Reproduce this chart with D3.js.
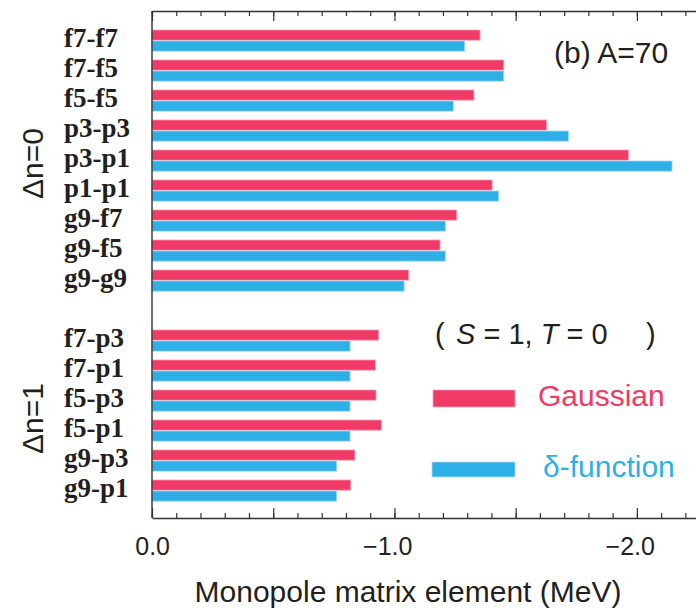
<!DOCTYPE html>
<html>
<head>
<meta charset="utf-8">
<script src="https://cdn.jsdelivr.net/npm/d3@7"></script>
<style>
  body { margin: 0; background: #fff; }
  text { font-family: "Liberation Sans", Arial, sans-serif; fill: #231f20; }
</style>
</head>
<body>
<div id="chart"></div>
<script>
// Orbit pairs, Δn=0 group then Δn=1 group
const topPairs = ["f7-f7", "f7-f5", "f5-f5", "p3-p3", "p3-p1", "p1-p1", "g9-f7", "g9-f5", "g9-g9"];
const bottomPairs = ["f7-p3", "f7-p1", "f5-p3", "f5-p1", "g9-p3", "g9-p1"];

// Monopole matrix elements (MeV)
const gaussianTop = [-1.353, -1.451, -1.328, -1.628, -1.966, -1.403, -1.257, -1.188, -1.059];
const deltaTop    = [-1.290, -1.451, -1.243, -1.718, -2.145, -1.430, -1.210, -1.210, -1.040];
const gaussianBottom = [-0.935, -0.921, -0.924, -0.946, -0.837, -0.820];
const deltaBottom    = [-0.817, -0.817, -0.817, -0.817, -0.762, -0.762];

const majorTicks = [0, -0.5, -1.0, -1.5, -2.0];
const minorTicks = [0, -0.1, -0.2, -0.3, -0.4, -0.5, -0.6, -0.7, -0.8, -0.9, -1.0, -1.1,
                    -1.2, -1.3, -1.4, -1.5, -1.6, -1.7, -1.8, -1.9, -2.0, -2.1, -2.2];
const labelTicks = [0, -1.0, -2.0];
const tickLabels = ["0.0", "\u22121.0", "\u22122.0"];

const seriesNames = ["Gaussian", "\u03b4-function"];
const colors = ["#ef3b66", "#2eafe5"];
const edgeColors = ["#f7a3b7", "#a5dcf4"];

const width = 696, height = 611;
const plot = {left: 152, right: 697.5, top: 11, bottom: 518};

const svg = d3.select("#chart")
  .append("svg")
    .attr("width", width)
    .attr("height", height);

// rows: top group, a blank spacer row, bottom group
const rows = [...topPairs, "", ...bottomPairs];
const data = [
  ...topPairs.map((p, i) => ({pair: p, vals: [gaussianTop[i], deltaTop[i]]})),
  ...bottomPairs.map((p, i) => ({pair: p, vals: [gaussianBottom[i], deltaBottom[i]]}))
];

const x = d3.scaleLinear()
  .domain([0, -2.25])
  .range([plot.left, plot.right]);

const y = d3.scaleBand()
  .domain(rows)
  .range([plot.top, plot.bottom])
  .paddingInner(0)
  .paddingOuter(0.45)
  .align(0.54);

const sub = d3.scaleBand()
  .domain([0, 1])
  .range([4, 26]);

// Bars
const rowG = svg.append("g")
  .selectAll("g")
  .data(data)
  .join("g")
    .attr("transform", d => `translate(0,${y(d.pair)})`);

rowG.selectAll("rect")
  .data(d => d.vals.map((v, k) => ({v, k})))
  .join("rect")
    .attr("x", x(0))
    .attr("y", d => sub(d.k) + 0.4)
    .attr("width", d => x(d.v) - x(0))
    .attr("height", sub.bandwidth() - 0.8)
    .attr("fill", d => colors[d.k])
    .attr("stroke", d => edgeColors[d.k])
    .attr("stroke-width", 0.8);

// Axes: ticks point inward
function styleAxis(g) {
  g.selectAll("line").attr("stroke", "#333").attr("stroke-width", 1.2);
  g.selectAll("path").attr("stroke", "#333").attr("stroke-width", 1.4);
}

svg.append("g")
  .attr("transform", `translate(0,${plot.bottom})`)
  .call(d3.axisBottom(x).tickValues(minorTicks).tickSize(-5).tickSizeOuter(0).tickFormat(""))
  .call(styleAxis);
svg.append("g")
  .attr("transform", `translate(0,${plot.bottom})`)
  .call(d3.axisBottom(x).tickValues(majorTicks).tickSize(-10).tickSizeOuter(0).tickFormat(""))
  .call(g => g.select(".domain").remove())
  .call(styleAxis);

svg.append("g")
  .attr("transform", `translate(0,${plot.top})`)
  .call(d3.axisTop(x).tickValues(minorTicks).tickSize(-5).tickSizeOuter(0).tickFormat(""))
  .call(styleAxis);
svg.append("g")
  .attr("transform", `translate(0,${plot.top})`)
  .call(d3.axisTop(x).tickValues(majorTicks).tickSize(-10).tickSizeOuter(0).tickFormat(""))
  .call(g => g.select(".domain").remove())
  .call(styleAxis);

// Tick labels (numeric part centred on tick, minus hanging left)
svg.append("g")
  .attr("transform", `translate(0,${plot.bottom})`)
  .call(d3.axisBottom(x).tickValues(labelTicks).tickSize(0)
        .tickFormat((d, i) => tickLabels[i]))
  .call(g => g.select(".domain").remove())
  .call(g => g.selectAll("text")
    .attr("text-anchor", "end")
    .attr("x", 17.5)
    .attr("y", 37)
    .attr("dy", 0)
    .attr("font-size", 25)
    .attr("font-family", "Liberation Sans, Arial, sans-serif")
    .attr("fill", "#231f20"));

// Left frame line
svg.append("line")
  .attr("x1", x(0)).attr("x2", x(0))
  .attr("y1", plot.top).attr("y2", plot.bottom)
  .attr("stroke", "#333")
  .attr("stroke-width", 1.4);

// Row labels
svg.append("g")
  .selectAll("text")
  .data(data)
  .join("text")
    .attr("x", 64)
    .attr("y", d => y(d.pair) + y.bandwidth() / 2 + 6.5)
    .style("font-family", "'Liberation Serif', 'Times New Roman', serif")
    .style("font-weight", "bold")
    .style("font-size", "27px")
    .text(d => d.pair);

// Group labels
const groupMid = (list) => (y(list[0]) + y(list[list.length - 1]) + y.bandwidth()) / 2;
[["\u0394n=0", topPairs], ["\u0394n=1", bottomPairs]].forEach(([lab, list]) => {
  svg.append("text")
    .attr("transform", `translate(43,${groupMid(list) + 3}) rotate(-90)`)
    .attr("text-anchor", "middle")
    .style("font-size", "30px")
    .text(lab);
});

// Axis title
svg.append("text")
  .attr("x", 408)
  .attr("y", 602)
  .attr("text-anchor", "middle")
  .style("font-size", "30px")
  .text("Monopole matrix element (MeV)");

// Panel label
svg.append("text")
  .attr("x", 554)
  .attr("y", 63)
  .style("font-size", "30px")
  .text("(b) A=70");

// Spin-isospin note
svg.append("text").attr("x", 435).attr("y", 344).style("font-size", "29px").text("(");
const note = svg.append("text").attr("x", 456).attr("y", 344).style("font-size", "29px");
note.append("tspan").style("font-style", "italic").text("S");
note.append("tspan").text(" = 1, ");
note.append("tspan").style("font-style", "italic").text("T");
note.append("tspan").text(" = 0");
svg.append("text").attr("x", 646).attr("y", 344).style("font-size", "29px").text(")");

// Legend
const legend = [
  {x: 433, y: 390, w: 82, h: 17, tx: 538, ty: 406},
  {x: 432, y: 462, w: 83, h: 15, tx: 543, ty: 477}
];
legend.forEach((d, k) => {
  svg.append("rect")
    .attr("x", d.x).attr("y", d.y)
    .attr("width", d.w).attr("height", d.h)
    .attr("fill", colors[k])
    .attr("stroke", edgeColors[k])
    .attr("stroke-width", 0.8);
  svg.append("text")
    .attr("x", d.tx).attr("y", d.ty)
    .style("font-size", "30px")
    .style("fill", colors[k])
    .text(seriesNames[k]);
});
</script>
</body>
</html>
